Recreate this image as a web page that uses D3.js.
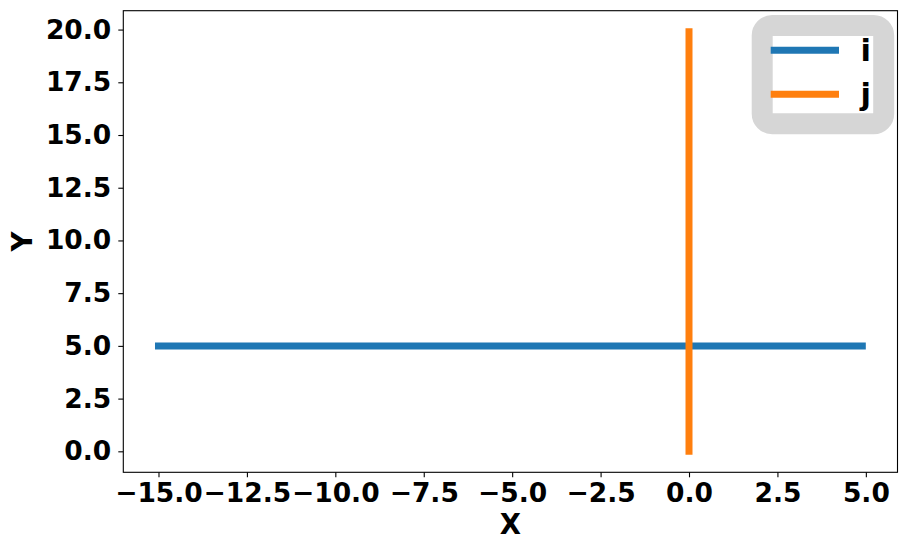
<!DOCTYPE html>
<html>
<head>
<meta charset="utf-8">
<script src="https://cdn.jsdelivr.net/npm/d3@7"></script>
<style>
  body { margin: 0; background: #fff; }
  svg { display: block; }
  text { font-family: "DejaVu Sans", sans-serif; font-weight: bold; }
</style>
</head>
<body>
<div id="chart"></div>
<script>
// series data
var seriesNames = ["i", "j"];
var iX = [-15, 4.9];
var iY = [5, 5];
var jX = [0, 0];
var jY = [0, 19.9];
var xTicks = [-15, -12.5, -10, -7.5, -5, -2.5, 0, 2.5, 5];
var yTicks = [0, 2.5, 5, 7.5, 10, 12.5, 15, 17.5, 20];

var colors = ["#1f77b4", "#ff7f0e"];

var W = 908, H = 554;
var margin = { top: 10.7, right: 10.5, bottom: 81.7, left: 123.3 };
var w = W - margin.left - margin.right,
    h = H - margin.top - margin.bottom;

var svg = d3.select("#chart").append("svg")
  .attr("width", W)
  .attr("height", H);

var g = svg.append("g")
  .attr("transform", "translate(" + margin.left + "," + margin.top + ")");

// matplotlib-like 5% margins
function padDomain(vals) {
  var lo = d3.min(vals), hi = d3.max(vals), m = (hi - lo) * 0.05;
  return [lo - m, hi + m];
}

var xScale = d3.scaleLinear().domain(padDomain(iX.concat(jX))).range([0, w]);
var yScale = d3.scaleLinear().domain(padDomain(iY.concat(jY))).range([h, 0]);

var fmt = d3.format(".1f");

// lines
var line = d3.line()
  .x(function(d) { return xScale(d[0]); })
  .y(function(d) { return yScale(d[1]); });

var lines = [
  d3.zip(iX, iY),
  d3.zip(jX, jY)
];

g.selectAll("path.series")
  .data(lines)
  .enter()
  .append("path")
  .attr("class", "series")
  .attr("d", line)
  .attr("fill", "none")
  .attr("stroke", function(d, i) { return colors[i]; })
  .attr("stroke-width", 7)
  .attr("stroke-linecap", "square");

// axes
var xAxis = g.append("g")
  .attr("transform", "translate(0," + h + ")")
  .call(d3.axisBottom(xScale).tickValues(xTicks).tickFormat(fmt).tickSize(5).tickPadding(6).tickSizeOuter(0));

var yAxis = g.append("g")
  .call(d3.axisLeft(yScale).tickValues(yTicks).tickFormat(fmt).tickSize(5).tickPadding(7).tickSizeOuter(0));

[xAxis, yAxis].forEach(function(a) {
  a.select(".domain").remove();
  a.selectAll("line").attr("stroke", "#000").attr("stroke-width", 1.1);
  a.selectAll("text")
    .attr("font-family", "DejaVu Sans")
    .attr("font-weight", "bold")
    .attr("font-size", "26.5px")
    .attr("fill", "#000");
});
xAxis.selectAll("text").attr("dy", "0.72em");

// frame
g.append("rect")
  .attr("width", w)
  .attr("height", h)
  .attr("fill", "none")
  .attr("stroke", "#000")
  .attr("stroke-width", 1.1);

// axis labels
svg.append("text")
  .attr("x", margin.left + w / 2)
  .attr("y", 534)
  .attr("text-anchor", "middle")
  .attr("font-size", "27.5px")
  .text("X");

svg.append("text")
  .attr("transform", "translate(32.3," + (margin.top + h / 2) + ") rotate(-90)")
  .attr("text-anchor", "middle")
  .attr("font-size", "27.5px")
  .text("Y");

// legend
var legend = svg.append("g");

legend.append("rect")
  .attr("x", 762.2)
  .attr("y", 25.5)
  .attr("width", 121.5)
  .attr("height", 98.2)
  .attr("rx", 10)
  .attr("ry", 10)
  .attr("fill", "#fff")
  .attr("stroke", "#d6d6d6")
  .attr("stroke-width", 21);

var items = legend.selectAll("g.item")
  .data(seriesNames)
  .enter()
  .append("g")
  .attr("class", "item")
  .attr("transform", function(d, i) { return "translate(0," + (50.3 + i * 44) + ")"; });

items.append("line")
  .attr("x1", 774.2)
  .attr("x2", 835.5)
  .attr("stroke", function(d, i) { return colors[i]; })
  .attr("stroke-width", 7)
  .attr("stroke-linecap", "square");

items.append("text")
  .attr("x", 860.5)
  .attr("y", 10.6)
  .attr("font-size", "30.5px")
  .attr("fill", "#000")
  .text(function(d) { return d; });
</script>
</body>
</html>
